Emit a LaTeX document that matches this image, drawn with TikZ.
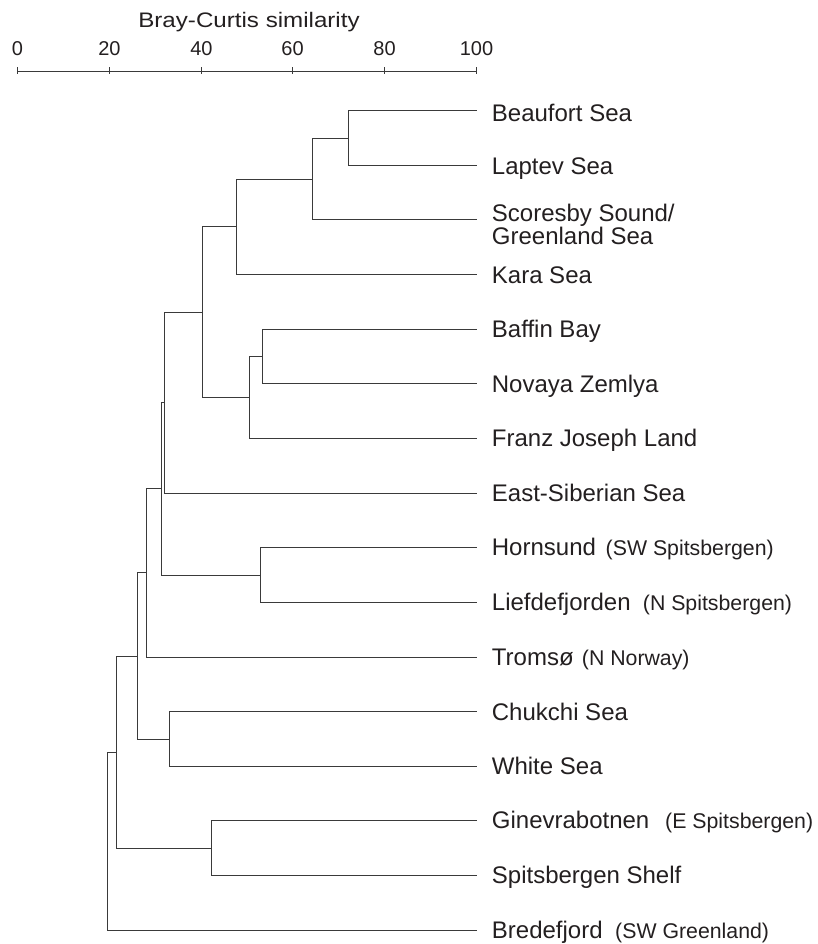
\documentclass[tikz,border=0pt]{standalone}
\usepackage{fontspec}
\setmainfont{Liberation Sans}
\usetikzlibrary{calc}
\definecolor{ink}{HTML}{231F20}
\definecolor{linecol}{HTML}{3A3A3A}
\tikzset{
  link/.style={draw=linecol, line width=1.3pt, line join=miter},
  leaflabel/.style={anchor=base west, inner sep=0pt, text=ink, font=\fontsize{24}{24}\selectfont},
  paren/.style={anchor=base west, inner sep=0pt, text=ink, font=\fontsize{21.3}{21.3}\selectfont},
  num/.style={anchor=base, inner sep=0pt, text=ink, font=\fontsize{20}{20}\selectfont},
}
\begin{document}
\begin{tikzpicture}[x=1pt,y=-1pt]
\useasboundingbox (0,0) rectangle (817,944);
% axis
\node[num, font=\fontsize{21}{21}\selectfont] (title) at (249,27.7) {\scalebox{1.15}[1]{Bray-Curtis similarity}};
\coordinate (a0) at (17.5,71.5);
\coordinate (a100) at (476.5,71.5);
\draw[link] (a0) -- (a100);
\foreach \v/\px [count=\i from 0] in {0/17.5,20/109.5,40/201.5,60/292.5,80/384.5,100/476.5}{
  \coordinate (t\i) at (\px,71.5);
  \draw[link] ($(t\i)+(0,-4)$) -- ($(t\i)+(0,3)$);
  \node[num] (lab\i) at (\px,56) {\v};
}
% leaves
\def\lx{476.5}
\coordinate (L0) at (\lx,110.5);
\coordinate (L1) at (\lx,165.5);
\coordinate (L2) at (\lx,219.5);
\coordinate (L3) at (\lx,274.5);
\coordinate (L4) at (\lx,329.5);
\coordinate (L5) at (\lx,383.5);
\coordinate (L6) at (\lx,438.5);
\coordinate (L7) at (\lx,493.5);
\coordinate (L8) at (\lx,547.5);
\coordinate (L9) at (\lx,602.5);
\coordinate (L10) at (\lx,657.5);
\coordinate (L11) at (\lx,711.5);
\coordinate (L12) at (\lx,766.5);
\coordinate (L13) at (\lx,820.5);
\coordinate (L14) at (\lx,875.5);
\coordinate (L15) at (\lx,930.5);
% labels
\def\tx{491.7}
\node[leaflabel] (s0) at (\tx,121.5) {Beaufort Sea};
\node[leaflabel] (s1) at (\tx,174.5) {Laptev Sea};
\node[leaflabel, align=left, font=\fontsize{24}{19}\selectfont] (s2) at (\tx,244.5) {Scoresby Sound/\\Greenland Sea};
\node[leaflabel] (s3) at (\tx,283.5) {Kara Sea};
\node[leaflabel] (s4) at (\tx,337.6) {Baffin Bay};
\node[leaflabel] (s5) at (\tx,392.2) {Novaya Zemlya};
\node[leaflabel] (s6) at (\tx,446.9) {Franz Joseph Land};
\node[leaflabel] (s7) at (\tx,501.5) {East-Siberian Sea};
\node[leaflabel] (s8) at (\tx,555.2) {Hornsund};
\node[paren] (p8) at (605.5,555.2) {(SW Spitsbergen)};
\node[leaflabel] (s9) at (\tx,610.3) {Liefdefjorden};
\node[paren] (p9) at (642.7,610.3) {(N Spitsbergen)};
\node[leaflabel] (s10) at (\tx,665.2) {Tromsø};
\node[paren] (p10) at (581.7,665.2) {(N Norway)};
\node[leaflabel] (s11) at (\tx,720) {Chukchi Sea};
\node[leaflabel] (s12) at (\tx,774.6) {White Sea};
\node[leaflabel] (s13) at (\tx,828.3) {Ginevrabotnen};
\node[paren] (p13) at (665,828.3) {(E Spitsbergen)};
\node[leaflabel] (s14) at (\tx,883.5) {Spitsbergen Shelf};
\node[leaflabel] (s15) at (\tx,938.3) {Bredefjord};
\node[paren] (p15) at (615,938.3) {(SW Greenland)};
% internal nodes
\coordinate (n1) at (348.5,138.5);
\coordinate (n2) at (312.5,179.5);
\coordinate (n3) at (236.5,226.5);
\coordinate (n4) at (262.5,356.5);
\coordinate (n5) at (249.5,397.5);
\coordinate (n6) at (202.5,312.5);
\coordinate (n7) at (164.5,402.5);
\coordinate (n8) at (260.5,575.5);
\coordinate (n9) at (161.5,488.5);
\coordinate (n10) at (146.5,572.5);
\coordinate (n11) at (169.5,739.5);
\coordinate (n12) at (137.5,656.5);
\coordinate (n13) at (211.5,848.5);
\coordinate (n14) at (116.5,752.5);
\coordinate (n15) at (107.5,841.5);
% connectors
\draw[link] (L0) -| (n1) |- (L1);
\draw[link] (n1) -| (n2) |- (L2);
\draw[link] (n2) -| (n3) |- (L3);
\draw[link] (L4) -| (n4) |- (L5);
\draw[link] (n4) -| (n5) |- (L6);
\draw[link] (n3) -| (n6) |- (n5);
\draw[link] (n6) -| (n7) |- (L7);
\draw[link] (L8) -| (n8) |- (L9);
\draw[link] (n7) -| (n9) |- (n8);
\draw[link] (n9) -| (n10) |- (L10);
\draw[link] (L11) -| (n11) |- (L12);
\draw[link] (n10) -| (n12) |- (n11);
\draw[link] (L13) -| (n13) |- (L14);
\draw[link] (n12) -| (n14) |- (n13);
\draw[link] (n14) -| (n15) |- (L15);
\end{tikzpicture}
\end{document}
